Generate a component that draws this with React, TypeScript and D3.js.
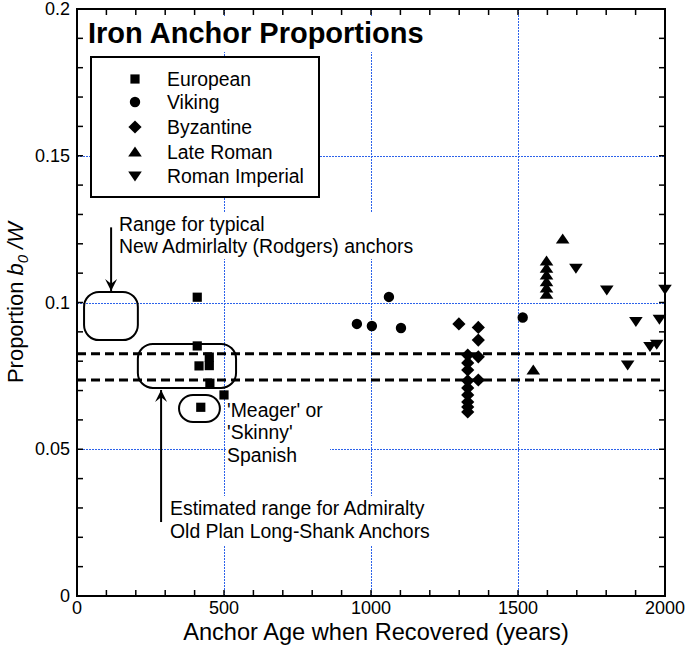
import React from "react";
import * as d3 from "d3";

const europeanAge = [409, 409, 450, 450, 415, 452, 500, 421];
const europeanVal = [0.1018, 0.0852, 0.0814, 0.0785, 0.0784, 0.0725, 0.0685, 0.0643];

const vikingAge = [952, 1003, 1061, 1102, 1516];
const vikingVal = [0.0927, 0.092, 0.1019, 0.0913, 0.0949];

const byzantineAge = [1299, 1365, 1365, 1365, 1365, 1329, 1329, 1329, 1329, 1329, 1329, 1329, 1329, 1329];
const byzantineVal = [0.0927, 0.0915, 0.0872, 0.0815, 0.0736, 0.0821, 0.0794, 0.077, 0.0733, 0.0709, 0.0685, 0.0661, 0.0644, 0.0627];

const lateRomanAge = [1652, 1597, 1597, 1597, 1597, 1597, 1597, 1552];
const lateRomanVal = [0.1216, 0.1141, 0.1117, 0.1094, 0.1071, 0.1049, 0.1028, 0.077];

const romanImperialAge = [1697, 1802, 2000, 1901, 1981, 1949, 1972, 1873];
const romanImperialVal = [0.1117, 0.1043, 0.1045, 0.0935, 0.0943, 0.085, 0.0858, 0.0787];

const seriesNames = ["European", "Viking", "Byzantine", "Late Roman", "Roman Imperial"];
const xTickLabels = [0, 500, 1000, 1500, 2000];
const yTickLabels = [0, 0.05, 0.1, 0.15, 0.2];
const dashedLevels = [0.0825, 0.0736];

const FONT = "'Liberation Sans', Arial, Helvetica, sans-serif";

type Shape = "square" | "circle" | "diamond" | "up" | "down";

function markerPath(shape: Shape, cx: number, cy: number): string {
  const p = d3.path();
  if (shape === "square") {
    const h = 4.6;
    p.rect(cx - h, cy - h, 2 * h, 2 * h);
  } else if (shape === "circle") {
    p.arc(cx, cy, 5.2, 0, Math.PI * 2);
  } else if (shape === "diamond") {
    const r = 6.6;
    p.moveTo(cx, cy - r);
    p.lineTo(cx + r, cy);
    p.lineTo(cx, cy + r);
    p.lineTo(cx - r, cy);
    p.closePath();
  } else if (shape === "up") {
    const w = 6.8, h = 10;
    p.moveTo(cx, cy - h * 0.55);
    p.lineTo(cx + w, cy + h * 0.45);
    p.lineTo(cx - w, cy + h * 0.45);
    p.closePath();
  } else {
    const w = 6.8, h = 10;
    p.moveTo(cx - w, cy - h * 0.45);
    p.lineTo(cx + w, cy - h * 0.45);
    p.lineTo(cx, cy + h * 0.55);
    p.closePath();
  }
  return p.toString();
}

export default function App() {
  const W = 685, H = 646;
  const x = d3.scaleLinear().domain([0, 2000]).range([77, 665]);
  const y = d3.scaleLinear().domain([0, 0.2]).range([596, 9]);
  const crisp = (v: number) => Math.round(v) + 0.5;

  const series: { shape: Shape; ages: number[]; vals: number[] }[] = [
    { shape: "square", ages: europeanAge, vals: europeanVal },
    { shape: "circle", ages: vikingAge, vals: vikingVal },
    { shape: "diamond", ages: byzantineAge, vals: byzantineVal },
    { shape: "up", ages: lateRomanAge, vals: lateRomanVal },
    { shape: "down", ages: romanImperialAge, vals: romanImperialVal },
  ];

  const xMinor = d3.range(100, 2000, 100);
  const yMinor = d3.range(1, 20).map((i) => i * 0.01);
  const grid = "#2c62ea";

  // annotation boxes in data units
  const box1 = { x0: 24, x1: 207, y0: 0.1036, y1: 0.0872 };
  const box2 = { x0: 207, x1: 541, y0: 0.0859, y1: 0.0709 };
  const box3 = { x0: 347, x1: 486, y0: 0.0685, y1: 0.0593 };

  const legendShapes: Shape[] = ["square", "circle", "diamond", "up", "down"];
  const legendRows = [79, 102, 127, 152, 176];

  const fs = 19.4;

  return (
    <svg width={W} height={H} style={{ position: "absolute", left: 0, top: 0, background: "#fff" }} fontFamily={FONT}>
      <rect x={0} y={0} width={W} height={H} fill="#fff" />
      {/* grid */}
      {[500, 1000, 1500].map((v) => (
        <line key={"gx" + v} x1={crisp(x(v))} x2={crisp(x(v))} y1={y(0.2)} y2={y(0)} stroke={grid} strokeWidth={1} strokeDasharray="2,1" />
      ))}
      {[0.05, 0.1, 0.15].map((v) => (
        <line key={"gy" + v} x1={x(0)} x2={x(2000)} y1={crisp(y(v))} y2={crisp(y(v))} stroke={grid} strokeWidth={1} strokeDasharray="2,1" />
      ))}

      {/* white backgrounds behind text blocks */}
      <rect x={86} y={16} width={342} height={36} fill="#fff" />
      <rect x={116} y={212} width={304} height={47} fill="#fff" />
      <rect x={226} y={400} width={104} height={68} fill="#fff" />
      <rect x={166} y={496} width={262} height={50} fill="#fff" />

      {/* dashed reference lines */}
      {dashedLevels.map((v) => (
        <line key={"d" + v} x1={x(0)} x2={x(2000)} y1={y(v)} y2={y(v)} stroke="#000" strokeWidth={3} strokeDasharray="9,5" />
      ))}

      {/* annotation boxes */}
      {[box1, box2].map((b, i) => (
        <rect key={"b" + i} x={x(b.x0)} y={y(b.y0)} width={x(b.x1) - x(b.x0)} height={y(b.y1) - y(b.y0)} rx={15} ry={15} fill="none" stroke="#000" strokeWidth={2} />
      ))}
      <rect x={x(box3.x0)} y={y(box3.y0)} width={x(box3.x1) - x(box3.x0)} height={y(box3.y1) - y(box3.y0)} rx={14} ry={13.5} fill="none" stroke="#000" strokeWidth={2} />

      {/* arrows */}
      <defs>
        <marker id="ah" viewBox="0 0 10 10" refX={10} refY={5} markerWidth={6} markerHeight={7} orient="auto" markerUnits="strokeWidth">
          <path d="M0,0 L10,5 L0,10 L4,5 Z" fill="#000" />
        </marker>
      </defs>
      <line x1={x(116)} x2={x(116)} y1={y(0.1256)} y2={y(0.1039)} stroke="#000" strokeWidth={2} markerEnd="url(#ah)" />
      <line x1={x(286)} x2={x(286)} y1={y(0.0252)} y2={y(0.0702)} stroke="#000" strokeWidth={2} markerEnd="url(#ah)" />

      {/* data */}
      {series.map((s, si) =>
        s.ages.map((a, i) => <path key={si + "-" + i} d={markerPath(s.shape, x(a), y(s.vals[i]))} fill="#000" />)
      )}

      {/* frame */}
      <rect x={x(0)} y={y(0.2)} width={x(2000) - x(0)} height={y(0) - y(0.2)} fill="none" stroke="#000" strokeWidth={2} />
      {xMinor.map((v) => (
        <g key={"xt" + v}>
          <line x1={x(v)} x2={x(v)} y1={y(0)} y2={y(0) - 6} stroke="#000" strokeWidth={1.5} />
          <line x1={x(v)} x2={x(v)} y1={y(0.2)} y2={y(0.2) + 6} stroke="#000" strokeWidth={1.5} />
        </g>
      ))}
      {yMinor.map((v) => (
        <g key={"yt" + v}>
          <line x1={x(0)} x2={x(0) + 6} y1={y(v)} y2={y(v)} stroke="#000" strokeWidth={1.5} />
          <line x1={x(2000)} x2={x(2000) - 6} y1={y(v)} y2={y(v)} stroke="#000" strokeWidth={1.5} />
        </g>
      ))}

      {/* tick labels */}
      {xTickLabels.map((v) => (
        <text key={"xl" + v} x={x(v)} y={614} fontSize={18} textAnchor="middle">{d3.format("")(v)}</text>
      ))}
      {yTickLabels.map((v) => (
        <text key={"yl" + v} x={70} y={y(v) + 6} fontSize={18} textAnchor="end">{v === 0 ? "0" : String(v)}</text>
      ))}

      {/* axis titles */}
      <text x={376} y={640} fontSize={23.6} textAnchor="middle">Anchor Age when Recovered (years)</text>
      <text transform={`translate(23,${y(0.1)}) rotate(-90)`} fontSize={22} textAnchor="middle">
        <tspan>Proportion </tspan>
        <tspan fontStyle="italic">b</tspan>
        <tspan fontStyle="italic" fontSize={15} dy={5}>0</tspan>
        <tspan fontStyle="italic" dy={-5}> /W</tspan>
      </text>

      {/* title */}
      <text x={88} y={43} fontSize={29} fontWeight="bold">Iron Anchor Proportions</text>

      {/* legend */}
      <rect x={91} y={57} width={228} height={140} fill="#fff" stroke="#000" strokeWidth={2} />
      {seriesNames.map((n, i) => (
        <g key={"lg" + i}>
          <path d={markerPath(legendShapes[i], 135, legendRows[i])} fill="#000" />
          <text x={167} y={legendRows[i] + 7} fontSize={fs}>{n}</text>
        </g>
      ))}

      {/* annotation texts */}
      <text x={119} y={231} fontSize={fs}>Range for typical</text>
      <text x={119} y={253} fontSize={fs}>New Admirlalty (Rodgers) anchors</text>
      <text x={227} y={417} fontSize={fs}>'Meager' or</text>
      <text x={227} y={439} fontSize={fs}>'Skinny'</text>
      <text x={227} y={462} fontSize={fs}>Spanish</text>
      <text x={170} y={515} fontSize={fs}>Estimated range for Admiralty</text>
      <text x={170} y={538} fontSize={fs}>Old Plan Long-Shank Anchors</text>
    </svg>
  );
}
